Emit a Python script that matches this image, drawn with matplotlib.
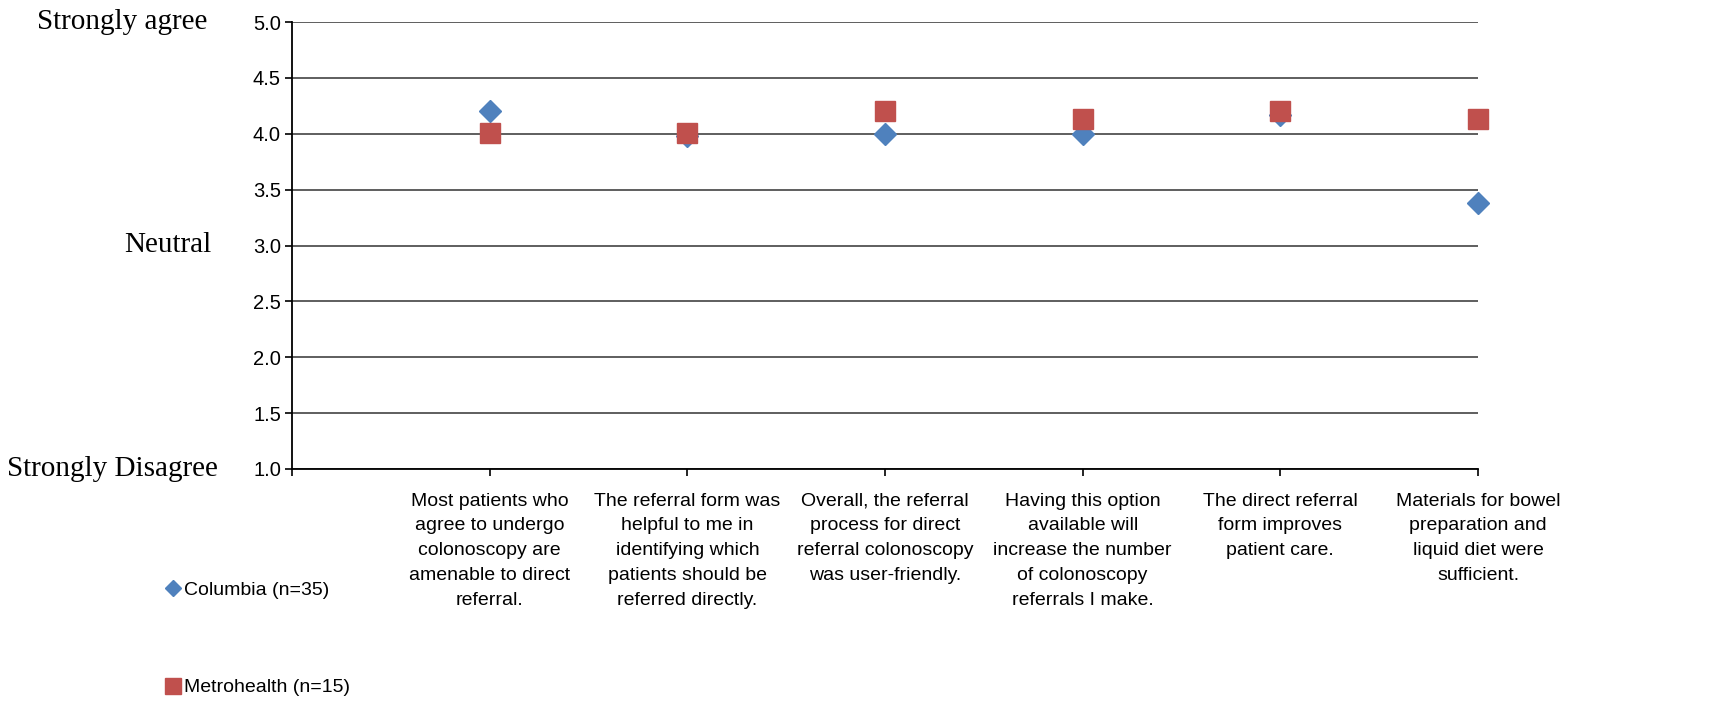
import matplotlib.pyplot as plt
import matplotlib.transforms as mtransforms

# 数据
categories = [
    "Most patients who\nagree to undergo\ncolonoscopy are\namenable to direct\nreferral.",
    "The referral form was\nhelpful to me in\nidentifying which\npatients should be\nreferred directly.",
    "Overall, the referral\nprocess for direct\nreferral colonoscopy\nwas user-friendly.",
    "Having this option\navailable will\nincrease the number\nof colonoscopy\nreferrals I make.",
    "The direct referral\nform improves\npatient care.",
    "Materials for bowel\npreparation and\nliquid diet were\nsufficient.",
]
columbia = [4.2, 3.98, 4.0, 4.0, 4.17, 3.38]
metrohealth = [4.01, 4.01, 4.2, 4.13, 4.2, 4.13]
y_ticks = [1.0, 1.5, 2.0, 2.5, 3.0, 3.5, 4.0, 4.5, 5.0]
scale_labels = [("Strongly agree", 5.0, 207), ("Neutral", 3.0, 211), ("Strongly Disagree", 1.0, 218)]

sans = ["Liberation Sans", "DejaVu Sans"]

fig = plt.figure(figsize=(17.36, 7.08), dpi=100)
ax = fig.add_axes([292 / 1736, 1 - 469 / 708, (1478 - 292) / 1736, (469 - 22) / 708])

x = list(range(1, len(categories) + 1))

# 网格线
for v in y_ticks:
    ax.axhline(v, color="#333333", lw=1.1, zorder=1)

ax.plot(x, columbia, ls="none", marker="D", ms=11, color="#4F81BD", mec="#4F81BD", zorder=3,
        clip_on=False, label="Columbia (n=35)")
ax.plot(x, metrohealth, ls="none", marker="s", ms=14.5, color="#C0504D", mec="#C0504D", zorder=4,
        clip_on=False, label="Metrohealth (n=15)")

ax.set_xlim(0, len(categories))
ax.set_ylim(1.0, 5.0)
ax.set_xticks([0] + x)
ax.set_xticklabels([""] + categories, family=sans, fontsize=14, linespacing=1.6)
ax.set_yticks(y_ticks)
ax.set_yticklabels([f"{v:.1f}" for v in y_ticks], family=sans, fontsize=14.5)
ax.tick_params(axis="both", direction="out", length=5, width=1.2, color="black")
ax.tick_params(axis="x", pad=12)
ax.tick_params(axis="y", pad=3)

for s in ["top", "right"]:
    ax.spines[s].set_visible(False)
ax.spines["left"].set_linewidth(1.3)
ax.spines["bottom"].set_linewidth(1.3)

# 左侧量表说明
trans = mtransforms.blended_transform_factory(fig.transFigure, ax.transData)
for text, yv, xr in scale_labels:
    ax.text(xr / 1736, yv, text, transform=trans, ha="right", va="center",
            family="Liberation Serif", fontsize=21, clip_on=False)

# 图例
leg = ax.legend(loc="upper left", bbox_to_anchor=(150 / 1736, 1 - 564 / 708),
                bbox_transform=fig.transFigure, frameon=False,
                prop={"family": "Liberation Sans", "size": 14},
                handlelength=0.6, handletextpad=0.25, labelspacing=4.1, markerscale=0.75)

fig.savefig("out.png", dpi=100)
